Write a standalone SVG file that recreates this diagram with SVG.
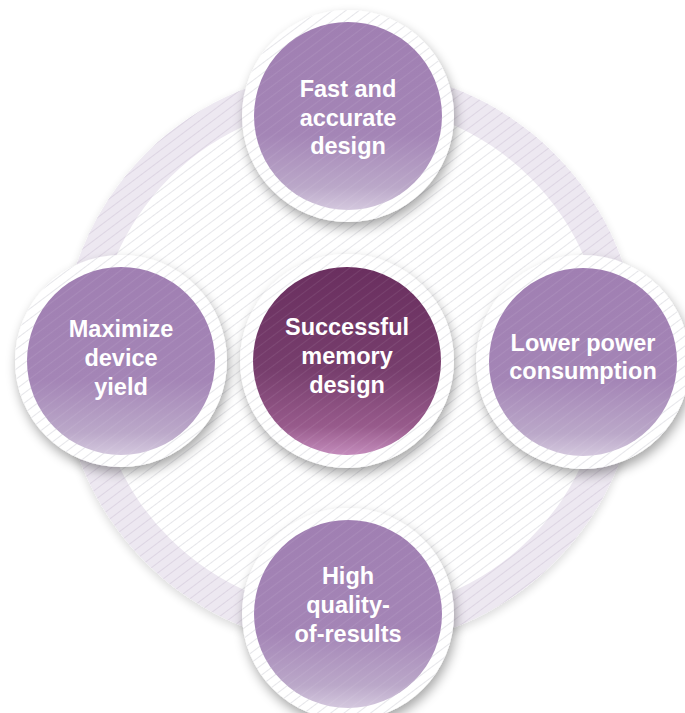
<svg xmlns="http://www.w3.org/2000/svg" width="685" height="713" viewBox="0 0 685 713">
  <style>
    .lbl { font-family: "Liberation Sans", Arial, Helvetica, sans-serif; font-weight: bold; font-size: 23.5px; fill: #ffffff; text-anchor: middle; }
    .ring { fill: #ffffff; filter: url(#shadow); }
    .hatch { fill: url(#hatchGray); }
    .disc { fill: url(#gradOuter); }
    .discC { fill: url(#gradCenter); }
    .sheen { fill: url(#hatchLight); }
  </style>
  <defs>
    <pattern id="hatchGray" patternUnits="userSpaceOnUse" width="8" height="8" patternTransform="rotate(53)">
      <line x1="0.5" y1="0" x2="0.5" y2="8" stroke="#e6e6ea" stroke-width="1"/>
    </pattern>
    <pattern id="hatchRing" patternUnits="userSpaceOnUse" width="8" height="8" patternTransform="rotate(53)">
      <line x1="0.5" y1="0" x2="0.5" y2="8" stroke="#ddd5e3" stroke-width="1"/>
    </pattern>
    <pattern id="hatchLight" patternUnits="userSpaceOnUse" width="8" height="8" patternTransform="rotate(53)">
      <line x1="0.5" y1="0" x2="0.5" y2="8" stroke="#ffffff" stroke-opacity="0.08" stroke-width="1"/>
    </pattern>
    <linearGradient id="gradOuter" x1="0" y1="0" x2="0" y2="1">
      <stop offset="0" stop-color="#a07fb2"/>
      <stop offset="0.6" stop-color="#a485b6"/>
      <stop offset="0.88" stop-color="#bba8c9"/>
      <stop offset="1" stop-color="#d4c8de"/>
    </linearGradient>
    <linearGradient id="gradCenter" x1="0" y1="0" x2="0" y2="1">
      <stop offset="0" stop-color="#6a2f5f"/>
      <stop offset="0.55" stop-color="#773e6d"/>
      <stop offset="0.85" stop-color="#985b8c"/>
      <stop offset="1" stop-color="#c48cbc"/>
    </linearGradient>
    <filter id="shadow" x="-30%" y="-30%" width="160%" height="160%">
      <feGaussianBlur in="SourceAlpha" stdDeviation="6"/>
      <feOffset dx="2" dy="6" result="b"/>
      <feComponentTransfer><feFuncA type="linear" slope="0.35"/></feComponentTransfer>
      <feMerge><feMergeNode/><feMergeNode in="SourceGraphic"/></feMerge>
    </filter>
    <filter id="bgshadow" x="-20%" y="-20%" width="140%" height="140%">
      <feGaussianBlur in="SourceAlpha" stdDeviation="5"/>
      <feOffset dx="0" dy="4" result="b"/>
      <feComponentTransfer><feFuncA type="linear" slope="0.15"/></feComponentTransfer>
      <feMerge><feMergeNode/><feMergeNode in="SourceGraphic"/></feMerge>
    </filter>
  </defs>

  <rect width="685" height="713" fill="#ffffff"/>

  <g id="background">
    <circle cx="350" cy="358" r="289" fill="#ede8f1" filter="url(#bgshadow)"/>
    <circle cx="350" cy="358" r="289" fill="url(#hatchRing)"/>
    <circle cx="350" cy="358" r="255" fill="#ffffff"/>
    <circle cx="350" cy="358" r="255" class="hatch"/>
  </g>

  <g id="node-center">
    <circle cx="347" cy="361" r="107" class="ring"/>
    <circle cx="347" cy="361" r="107" class="hatch"/>
    <circle cx="347" cy="361" r="94" class="discC"/>
    <circle cx="347" cy="361" r="94" class="sheen"/>
    <text class="lbl" x="347" y="335">Successful</text>
    <text class="lbl" x="347" y="364">memory</text>
    <text class="lbl" x="347" y="393">design</text>
  </g>

  <g id="node-top">
    <circle cx="348" cy="116" r="106" class="ring"/>
    <circle cx="348" cy="116" r="106" class="hatch"/>
    <circle cx="348" cy="116" r="94" class="disc"/>
    <circle cx="348" cy="116" r="94" class="sheen"/>
    <text class="lbl" x="348" y="97">Fast and</text>
    <text class="lbl" x="348" y="126">accurate</text>
    <text class="lbl" x="348" y="154">design</text>
  </g>

  <g id="node-left">
    <circle cx="121" cy="361" r="106" class="ring"/>
    <circle cx="121" cy="361" r="106" class="hatch"/>
    <circle cx="121" cy="361" r="94" class="disc"/>
    <circle cx="121" cy="361" r="94" class="sheen"/>
    <text class="lbl" x="121" y="337">Maximize</text>
    <text class="lbl" x="121" y="366">device</text>
    <text class="lbl" x="121" y="395">yield</text>
  </g>

  <g id="node-right">
    <circle cx="583" cy="362" r="107" class="ring"/>
    <circle cx="583" cy="362" r="107" class="hatch"/>
    <circle cx="583" cy="362" r="94" class="disc"/>
    <circle cx="583" cy="362" r="94" class="sheen"/>
    <text class="lbl" x="583" y="351">Lower power</text>
    <text class="lbl" x="583" y="379">consumption</text>
  </g>

  <g id="node-bottom">
    <circle cx="348" cy="614" r="106" class="ring"/>
    <circle cx="348" cy="614" r="106" class="hatch"/>
    <circle cx="348" cy="614" r="94" class="disc"/>
    <circle cx="348" cy="614" r="94" class="sheen"/>
    <text class="lbl" x="348" y="584">High</text>
    <text class="lbl" x="348" y="613">quality-</text>
    <text class="lbl" x="348" y="642">of-results</text>
  </g>
</svg>
